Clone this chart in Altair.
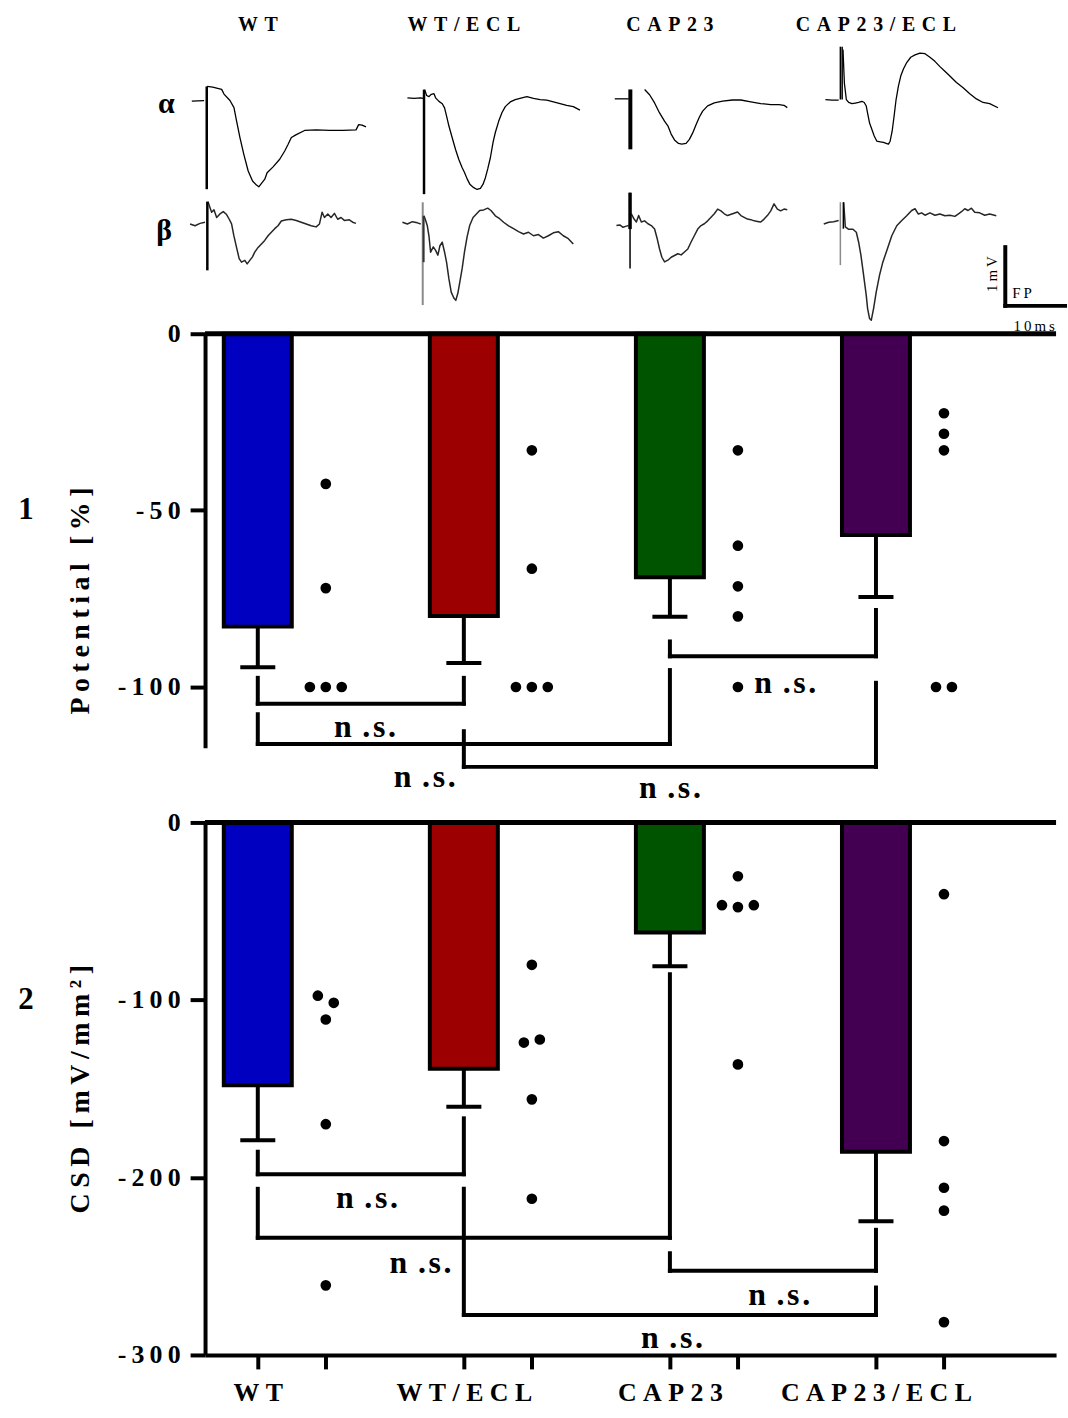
import altair as alt
import pandas as pd

FONT = "Liberation Serif"
EN = "\u2002"      # en space
THREE = "\u2004"   # three-per-em space
FOUR = "\u2005"    # four-per-em space
THIN = "\u2009"    # thin space
HAIR = "\u200A"    # hair space


def sp(s, sep):
    return sep.join(list(s))


# ------------------------------------------------------------------ data
GROUPS = ["WT", "WT/ECL", "CAP23", "CAP23/ECL"]
BAR_COLORS = ["#0000C0", "#9C0000", "#005400", "#430053"]

# panel 1 : Potential [%]
POT_MEAN = [-82.9, -79.9, -68.9, -57.0]
POT_ERR = [-94.4, -93.2, -80.1, -74.5]
POT_DOTS = [
    [-42.5, -72.0, -100.0, -100.0, -100.0],
    [-33.0, -66.5, -100.0, -100.0, -100.0],
    [-33.0, -60.0, -71.5, -80.0, -100.0],
    [-22.5, -28.3, -33.0, -100.0, -100.0],
]
POT_JIT = [[0, 0, -1, 0, 1], [0, 0, -1, 0, 1], [0, 0, 0, 0, 0], [0, 0, 0, -0.5, 0.5]]
# bracket: group a, group b, top of leg a, top of leg b, level of bar
POT_BR = [(0, 1, -97.4, -97.4, -104.7), (0, 2, -107.7, -95.2, -116.1),
          (1, 3, -112.5, -98.8, -122.6), (2, 3, -87.1, -78.2, -91.3)]
POT_BR_TEXT = [(0.52, -111.3), (0.81, -125.4), (2.0, -128.5), (2.56, -98.9)]

# panel 2 : CSD [mV/mm2]
CSD_MEAN = [-148.0, -138.8, -62.0, -185.5]
CSD_ERR = [-179.0, -160.2, -81.0, -224.7]
CSD_DOTS = [
    [-97.6, -101.6, -111.0, -170.0, -260.8],
    [-80.2, -124.0, -122.3, -156.0, -212.0],
    [-30.3, -46.6, -47.7, -46.6, -136.3],
    [-40.4, -179.5, -205.8, -218.7, -281.5],
]
CSD_JIT = [[-0.5, 0.5, 0, 0, 0], [0, -0.5, 0.5, 0, 0], [0, -1, 0, 1, 0], [0, 0, 0, 0, 0]]
CSD_BR = [(0, 1, -185.5, -166.7, -198.2), (0, 2, -206.4, -85.5, -234.0),
          (1, 3, -206.4, -262.0, -277.5), (2, 3, -242.7, -229.5, -252.6)]
CSD_BR_TEXT = [(0.53, -211.5), (0.79, -248.0), (2.01, -290.5), (2.53, -266.0)]

# example field-potential traces: time [ms] from stimulus, voltage [mV] from baseline
WT_A_T = [-2.5, -0.44, 0.06, 1.0, 2.5, 2.89, 3.89, 4.56, 5.0, 5.56, 6.22, 6.94, 7.67, 8.33, 8.72, 9.17,
          9.72, 10.11, 11.11, 12.22, 13.06, 13.61, 14.17, 15.0, 16.39, 18.33, 20.56, 22.78, 25.0, 25.44, 26.0, 26.67]
WT_A_V = [-0.01, 0, 0.24, 0.23, 0.19, 0.11, 0, -0.12, -0.35, -0.63, -0.92, -1.20, -1.37, -1.44, -1.47, -1.41,
          -1.34, -1.23, -1.13, -1.0, -0.86, -0.75, -0.63, -0.58, -0.51, -0.50, -0.51, -0.51, -0.50, -0.41, -0.42, -0.45]
WT_B_T = [-2.89, -2.06, -1.22, -0.39, 0.11, 0.44, 0.72, 1.11, 1.56, 2.11, 2.67, 3.22, 3.67, 4.06, 4.44, 4.89,
          5.33, 5.72, 6.28, 6.67, 7.11, 7.56, 7.94, 8.5, 9.06, 9.61, 10.17, 10.72, 11.28, 11.83, 12.39, 13.22,
          14.06, 14.89, 15.72, 16.56, 17.39, 18.22, 18.78, 19.22, 19.61, 20.17, 20.72, 21.28, 21.83, 22.39,
          22.94, 23.78, 24.33, 24.89]
WT_B_V = [0, -0.03, 0.01, 0.03, 0.38, 0.28, 0.20, 0.24, 0.11, 0.17, 0.21, 0.16, 0.08, 0, -0.20, -0.40,
          -0.59, -0.65, -0.62, -0.68, -0.62, -0.56, -0.48, -0.40, -0.34, -0.28, -0.20, -0.14, -0.08, -0.03, 0.05, 0.07,
          0.08, 0.06, 0.03, 0, -0.03, -0.05, 0, 0.20, 0.11, 0.17, 0.11, 0.18, 0.08, 0.11,
          0.06, 0.07, 0.03, 0.01]
WTE_A_T = [-2.78, -1.67, -0.56, -0.11, 0.11, 0.44, 0.83, 1.22, 1.67, 1.94, 2.5, 3.06, 3.44, 3.78, 4.17, 4.72,
           5.28, 5.83, 6.39, 6.78, 7.22, 7.67, 8.33, 8.89, 9.44, 9.89, 10.28, 10.67, 11.11, 11.56, 11.94, 12.5,
           13.06, 13.61, 14.44, 15.28, 16.39, 17.22, 18.33, 19.44, 20.56, 21.67, 22.78, 23.89, 25.0, 26.11]
WTE_A_V = [0, -0.01, 0, -0.01, 0.14, 0.04, 0.02, 0.06, 0.07, 0, -0.06, -0.10, -0.17, -0.31, -0.48, -0.68,
           -0.88, -1.05, -1.19, -1.27, -1.38, -1.47, -1.53, -1.56, -1.54, -1.47, -1.36, -1.21, -1.02, -0.76, -0.59, -0.40,
           -0.25, -0.15, -0.07, -0.03, 0, 0.02, -0.01, -0.03, -0.04, -0.07, -0.10, -0.13, -0.15, -0.21]
WTE_B_T = [-3.5, -2.67, -1.83, -1.0, -0.44, 0.11, 0.39, 0.67, 0.94, 1.22, 1.67, 2.06, 2.44, 2.78, 3.17, 3.56,
           3.89, 4.28, 4.67, 5.11, 5.44, 5.78, 6.11, 6.5, 6.89, 7.33, 7.78, 8.33, 8.89, 9.44, 10.11, 10.78, 11.33,
           12.06, 12.78, 13.44, 14.28, 15.11, 15.94, 16.78, 17.61, 18.44, 19.28, 20.11, 20.94, 21.78, 22.61,
           23.44, 24.28, 25.11]
WTE_B_V = [0, -0.03, 0.01, -0.01, -0.03, 0.11, 0.03, -0.06, -0.23, -0.51, -0.42, -0.48, -0.56, -0.40, -0.34, -0.51,
           -0.68, -0.96, -1.19, -1.29, -1.33, -1.21, -1.02, -0.79, -0.51, -0.25, -0.05, 0.08, 0.14, 0.20, 0.21, 0.24, 0.20,
           0.11, 0.06, 0, -0.06, -0.11, -0.16, -0.20, -0.17, -0.23, -0.21, -0.27, -0.23, -0.18, -0.16,
           -0.23, -0.28, -0.37]
CAP_A_T = [-2.61, -1.5, -0.67, -0.28, 2.39, 3.22, 4.06, 4.89, 5.72, 6.28, 6.83, 7.39, 8.06, 8.61, 9.33, 9.89,
           10.44, 11.0, 11.56, 12.11, 12.94, 14.06, 15.44, 17.11, 18.5, 20.17, 21.83, 23.5, 24.89, 25.72, 26.28]
CAP_A_V = [0, 0, 0, 0, 0.16, 0.07, -0.07, -0.24, -0.38, -0.46, -0.60, -0.70, -0.76, -0.77, -0.76, -0.69,
           -0.58, -0.44, -0.31, -0.21, -0.12, -0.07, -0.04, -0.02, -0.02, -0.05, -0.08, -0.10, -0.10, -0.11, -0.15]
CAP_B_T = [-2.28, -1.72, -1.17, -0.61, -0.22, 0.22, 0.67, 1.06, 1.44, 1.89, 2.44, 3.0, 3.56, 4.11, 4.56, 4.94,
           5.33, 5.78, 6.33, 6.89, 7.44, 8.0, 8.56, 9.11, 9.67, 10.22, 10.78, 11.33, 11.89, 12.44, 13.0, 13.56,
           14.11, 14.67, 15.22, 15.78, 16.33, 17.17, 18.0, 18.56, 19.11, 19.67, 20.22, 20.78, 21.33, 21.89,
           22.44, 23.0, 23.56, 24.11, 24.67, 25.22, 25.78, 26.33]
CAP_B_V = [0, 0.01, -0.03, -0.01, 0, 0.20, 0.11, 0.06, 0.17, 0.06, 0.08, 0.03, 0, -0.06, -0.23, -0.40,
           -0.54, -0.62, -0.59, -0.54, -0.51, -0.48, -0.50, -0.45, -0.40, -0.28, -0.17, -0.06, 0, 0.03, 0.08, 0.14,
           0.20, 0.28, 0.25, 0.20, 0.17, 0.20, 0.23, 0.17, 0.14, 0.11, 0.10, 0.08, 0.07, 0.06,
           0.11, 0.17, 0.25, 0.37, 0.28, 0.25, 0.28, 0.27]
CAPE_A_T = [-2.5, -1.39, -0.28, 0.44, 0.67, 1.0, 1.39, 1.94, 2.5, 3.06, 3.61, 4.0, 4.33, 4.56, 4.89, 5.28,
            5.67, 6.11, 6.67, 7.22, 7.78, 8.06, 8.33, 8.67, 9.0, 9.33, 9.72, 10.11, 10.56, 11.11, 11.78, 12.5,
            13.33, 14.17, 15.0, 15.83, 16.67, 17.5, 18.33, 19.44, 20.56, 21.67, 22.78, 23.89, 25.0, 26.39]
CAPE_A_V = [0, -0.01, -0.01, 0.85, 0.28, 0, -0.05, -0.07, -0.06, -0.05, -0.03, -0.05, -0.11, -0.23, -0.40, -0.51,
            -0.62, -0.71, -0.72, -0.73, -0.75, -0.76, -0.71, -0.54, -0.28, 0, 0.23, 0.40, 0.52, 0.63, 0.72, 0.76,
            0.79, 0.78, 0.72, 0.65, 0.56, 0.48, 0.40, 0.29, 0.20, 0.10, 0.01, -0.05, -0.07, -0.14]
CAPE_B_T = [-2.78, -1.94, -1.11, -0.28, 0.56, 0.83, 1.39, 2.11, 2.67, 3.06, 3.44, 3.89, 4.33, 4.56, 4.89, 5.17,
            5.56, 6.0, 6.56, 7.11, 7.78, 8.61, 9.44, 10.28, 11.11, 11.94, 12.5, 13.06, 13.61, 14.17, 15.0, 15.83,
            16.67, 17.5, 18.33, 19.17, 19.72, 20.28, 20.83, 21.39, 21.94, 22.5, 23.33, 24.17, 25.0, 26.11]
CAPE_B_V = [-0.03, 0, 0.01, 0.03, 0.34, -0.08, -0.12, -0.12, -0.17, -0.34, -0.56, -0.90, -1.24, -1.47, -1.64, -1.67,
            -1.47, -1.19, -0.90, -0.68, -0.48, -0.23, -0.06, 0.03, 0.11, 0.20, 0.23, 0.14, 0.16, 0.12, 0.16, 0.12,
            0.14, 0.11, 0.12, 0.10, 0.14, 0.18, 0.23, 0.20, 0.24, 0.17, 0.16, 0.12, 0.14, 0.11]

# stimulus artifacts: (trace, t ms, v top, v bottom)
ARTIFACTS = [
    ("WT-a", 0.0, 0.24, -1.51), ("WT-b", 0.0, 0.38, -0.79),
    ("WTE-a", 0.0, 0.14, -1.64), ("WTE-b", -0.1, 0.34, -1.41), ("WTE-b", 0.05, 0.11, -0.68),
    ("CAP-a", 0.0, 0.16, -0.86), ("CAP-b", 0.0, 0.56, -0.73), ("CAP-b", 0.0, 0.56, -0.06),
    ("CAPE-a", 0.0, 0.90, 0.0), ("CAPE-a", 0.3, 0.90, 0.0),
    ("CAPE-b", 0.0, 0.34, -0.73), ("CAPE-b", 0.5, 0.34, -0.11),
]
ART_STYLE = [(2.5, "black"), (2.5, "black"), (2.5, "black"), (2.0, "#8a8a8a"), (2.0, "#333333"),
             (4.0, "black"), (1.5, "black"), (3.5, "black"), (1.5, "black"), (1.5, "black"),
             (1.5, "#8a8a8a"), (1.5, "black")]

# ------------------------------------------------------------------ layout
W = 855
H_TR, H_P1, H_P2 = 257, 416, 535
GAP = 75
U_MIN, U_MAX = -0.256, 3.874          # category units; groups at 0,1,2,3
UNIT_PX = W / (U_MAX - U_MIN)
DOT_OFF = 0.33
JIT_U = 16 / UNIT_PX
PX_MS, PX_MV = 6.0, 59.0                # trace calibration (10 ms / 1 mV scale bar)
X0 = 205                                # left edge of plot area (page px)

# trace origins (stimulus x, baseline y) in page px
TRACES = [
    ("WT-a", WT_A_T, WT_A_V, (206.7, 97.7), 1.3, "black"),
    ("WT-b", WT_B_T, WT_B_V, (207.3, 221.7), 1.5, "#262626"),
    ("WTE-a", WTE_A_T, WTE_A_V, (425.0, 95.0), 1.3, "black"),
    ("WTE-b", WTE_B_T, WTE_B_V, (424.3, 220.0), 1.5, "#262626"),
    ("CAP-a", CAP_A_T, CAP_A_V, (632.3, 96.0), 1.3, "black"),
    ("CAP-b", CAP_B_T, CAP_B_V, (632.0, 223.3), 1.5, "#262626"),
    ("CAPE-a", CAPE_A_T, CAPE_A_V, (843.3, 96.7), 1.3, "black"),
    ("CAPE-b", CAPE_B_T, CAPE_B_V, (843.3, 220.0), 1.5, "#262626"),
]
ORIG = {name: o for name, _, _, o, _, _ in TRACES}


def t_of(px):
    return (px - X0) / PX_MS


def v_of(py):
    return (H_TR - py) / PX_MV


# ------------------------------------------------------------------ trace panel
rows = []
for name, T, V, (ox, oy), sw, col in TRACES:
    for k, (t, v) in enumerate(zip(T, V)):
        rows.append(dict(seg=name + ("-pre" if t < 0 else "-post"), t=t_of(ox) + t, v=v_of(oy) + v,
                         k=k, sw=sw, col=col))
tr_df = pd.DataFrame(rows)

art_rows = []
for (name, t, v1, v2), (sw, col) in zip(ARTIFACTS, ART_STYLE):
    ox, oy = ORIG[name]
    art_rows.append(dict(t=t_of(ox) + t, v1=v_of(oy) + v1, v2=v_of(oy) + v2, sw=sw, col=col))
art_df = pd.DataFrame(art_rows)

txs = alt.Scale(domain=[0, W / PX_MS], nice=False, zero=False)
tys = alt.Scale(domain=[0, H_TR / PX_MV], nice=False, zero=False)


def TX(f):
    return alt.X(f, type="quantitative", scale=txs, axis=None)


def TY(f):
    return alt.Y(f, type="quantitative", scale=tys, axis=None)


def txt(df, size, weight="bold", align="center", angle=0):
    return alt.Chart(df).mark_text(font=FONT, fontSize=size, fontWeight=weight, color="black",
                                   baseline="middle", align=align, angle=angle).encode(
        x=TX("t"), y=TY("v"), text="label:N")


lines = alt.Chart(tr_df).mark_line(strokeJoin="round").encode(
    x=TX("t"), y=TY("v"), detail="seg:N", order="k:Q",
    color=alt.Color("col:N", scale=None), strokeWidth=alt.StrokeWidth("sw:Q", scale=None))
arts = alt.Chart(art_df).mark_rule().encode(
    x=TX("t"), y=TY("v1"), y2=alt.Y2("v2"),
    color=alt.Color("col:N", scale=None), strokeWidth=alt.StrokeWidth("sw:Q", scale=None))

head_df = pd.DataFrame(dict(t=[t_of(258 + UNIT_PX * i) for i in range(4)], v=[v_of(22)] * 4,
                            label=[sp(g, THREE) for g in GROUPS]))
heads = txt(head_df, 20)
greek_df = pd.DataFrame(dict(t=[t_of(166), t_of(164)], v=[v_of(101), v_of(229)], label=["α", "β"]))
greek = txt(greek_df, 30)

# scale bar: 1 mV vertical, 10 ms horizontal
sb_t, sb_v = t_of(1009), v_of(304)
sb_df = pd.DataFrame(dict(t=[sb_t, sb_t], t2=[sb_t, sb_t + 10], v=[sb_v + 1, sb_v], v2=[sb_v, sb_v]))
sbar = alt.Chart(sb_df).mark_rule(strokeWidth=4, color="black", strokeCap="square").encode(
    x=TX("t"), x2=alt.X2("t2"), y=TY("v"), y2=alt.Y2("v2"))
sb_text = alt.layer(
    txt(pd.DataFrame(dict(t=[t_of(996)], v=[v_of(272)], label=[sp("1mV", THIN)])), 15, "normal", angle=270),
    txt(pd.DataFrame(dict(t=[t_of(1016)], v=[v_of(291)], label=[sp("FP", THIN)])), 15, "normal", align="left"),
    txt(pd.DataFrame(dict(t=[t_of(1038)], v=[v_of(324)], label=[sp("10ms", THIN)])), 15, "normal"),
)
pin_df = pd.DataFrame(dict(t=[t_of(0)], t2=[t_of(4)], v=[v_of(2)]))
pin = alt.Chart(pin_df).mark_rule(color="white", strokeWidth=1).encode(x=TX("t"), x2=alt.X2("t2"), y=TY("v"))

trace_panel = alt.layer(pin, lines, arts, heads, greek, sbar, sb_text).properties(width=W, height=H_TR)

NS = "n" + THREE + "." + HAIR + "s" + HAIR + "."


# ------------------------------------------------------------------ bar panels
def bar_panel(mean, err, dots, jits, brackets, br_text, ymin, ticks, tick_labels, title, title_y,
              num, num_y, height, xaxis):
    ys = alt.Scale(domain=[ymin, 0], nice=False, zero=False)
    xs = alt.Scale(domain=[U_MIN, U_MAX], nice=False, zero=False)
    lexpr = " : ".join(f"datum.value == {v} ? '{l}'" for v, l in zip(ticks, tick_labels)) + " : ''"
    yaxis = alt.Axis(values=ticks, labelExpr=lexpr, tickSize=15, tickWidth=4, tickColor="black",
                     domainWidth=4, domainColor="black", labelFont=FONT, labelFontSize=26,
                     labelFontWeight="bold", labelColor="black", labelPadding=10, grid=False,
                     labelLimit=0,
                     title=title, titleFont=FONT, titleFontSize=28, titleFontWeight="bold",
                     titleColor="black", titleX=-125, titleY=title_y, titleAngle=270,
                     titleAlign="center", titleBaseline="middle", titleLimit=0)

    def X(f):
        return alt.X(f, type="quantitative", scale=xs, axis=xaxis)

    def Y(f):
        return alt.Y(f, type="quantitative", scale=ys, axis=yaxis)

    bars = pd.DataFrame(dict(pos=list(range(4)), mean=mean, err=err, color=BAR_COLORS, zero=[0] * 4))
    bars["x1"] = bars["pos"] - 0.165
    bars["x2"] = bars["pos"] + 0.165
    bars["c1"] = bars["pos"] - 0.085
    bars["c2"] = bars["pos"] + 0.085

    drows = []
    for i, (vals, js) in enumerate(zip(dots, jits)):
        for v, j in zip(vals, js):
            drows.append(dict(dx=i + DOT_OFF + j * JIT_U, val=v))
    ddf = pd.DataFrame(drows)

    brows, trows = [], []
    for (a, b, ta, tb, h), (tx, ty) in zip(brackets, br_text):
        brows += [dict(x=a, x2=a, y=ta, y2=h), dict(x=a, x2=b, y=h, y2=h), dict(x=b, x2=b, y=tb, y2=h)]
        trows.append(dict(tx=tx, ty=ty, label=NS))
    bdf, tdf = pd.DataFrame(brows), pd.DataFrame(trows)

    zdf = pd.DataFrame(dict(x1=[U_MIN], x2=[U_MAX], y=[0]))
    ndf = pd.DataFrame(dict(x=[U_MIN + (25 - X0) / UNIT_PX], y=[num_y], label=[num]))

    layers = [
        alt.Chart(bars).mark_rect(stroke="black", strokeWidth=4, strokeJoin="miter").encode(
            x=X("x1"), x2=alt.X2("x2"), y=Y("mean"), y2=alt.Y2("zero"), fill=alt.Fill("color:N", scale=None)),
        alt.Chart(bars).mark_rule(strokeWidth=4, color="black").encode(x=X("pos"), y=Y("mean"), y2=alt.Y2("err")),
        alt.Chart(bars).mark_rule(strokeWidth=4, color="black").encode(x=X("c1"), x2=alt.X2("c2"), y=Y("err")),
        alt.Chart(zdf).mark_rule(strokeWidth=5, color="black").encode(x=X("x1"), x2=alt.X2("x2"), y=Y("y")),
        alt.Chart(ddf).mark_circle(size=115, opacity=1, color="black").encode(x=X("dx"), y=Y("val")),
        alt.Chart(bdf).mark_rule(strokeWidth=4, color="black", strokeCap="square").encode(
            x=X("x"), x2=alt.X2("x2"), y=Y("y"), y2=alt.Y2("y2")),
        alt.Chart(tdf).mark_text(font=FONT, fontSize=32, fontWeight="bold", color="black",
                                 baseline="middle", align="center").encode(x=X("tx"), y=Y("ty"), text="label:N"),
        alt.Chart(ndf).mark_text(font=FONT, fontSize=31, fontWeight="bold", color="black",
                                 baseline="middle", align="center").encode(x=X("x"), y=Y("y"), text="label:N"),
    ]
    return alt.layer(*layers).properties(width=W, height=height)


xexpr = " : ".join(f"datum.value == {i} ? '{sp(g, FOUR)}'" for i, g in enumerate(GROUPS)) + " : ''"
x_axis2 = alt.Axis(values=[0, DOT_OFF, 1, 1 + DOT_OFF, 2, 2 + DOT_OFF, 3, 3 + DOT_OFF],
                   labelExpr=xexpr, tickSize=14, tickWidth=4, tickColor="black", domainWidth=4,
                   domainColor="black", labelFont=FONT, labelFontSize=26, labelFontWeight="bold",
                   labelColor="black", labelPadding=11, labelFlush=False, labelOverlap=False,
                   labelBound=False, labelLimit=0, grid=False, title=None)

p1 = bar_panel(POT_MEAN, POT_ERR, POT_DOTS, POT_JIT, POT_BR, POT_BR_TEXT, -117.2,
               [0, -50, -100], ["0", sp("-50", THIN), sp("-100", THIN)],
               sp("Potential [%]", THIN), 268, "1", -50, H_P1, None)
p2 = bar_panel(CSD_MEAN, CSD_ERR, CSD_DOTS, CSD_JIT, CSD_BR, CSD_BR_TEXT, -300,
               [0, -100, -200, -300], ["0", sp("-100", THIN), sp("-200", THIN), sp("-300", THIN)],
               sp("CSD [mV/mm²]", THIN), H_P2 / 2, "2", -100, H_P2, x_axis2)

chart = (
    alt.vconcat(trace_panel, p1, p2, spacing=GAP, bounds="flush")
    .resolve_scale(x="independent", y="independent")
    .properties(padding=0)
    .configure_view(stroke=None)
)

chart.save("out.html", embed_options={"renderer": "svg", "actions": False})
